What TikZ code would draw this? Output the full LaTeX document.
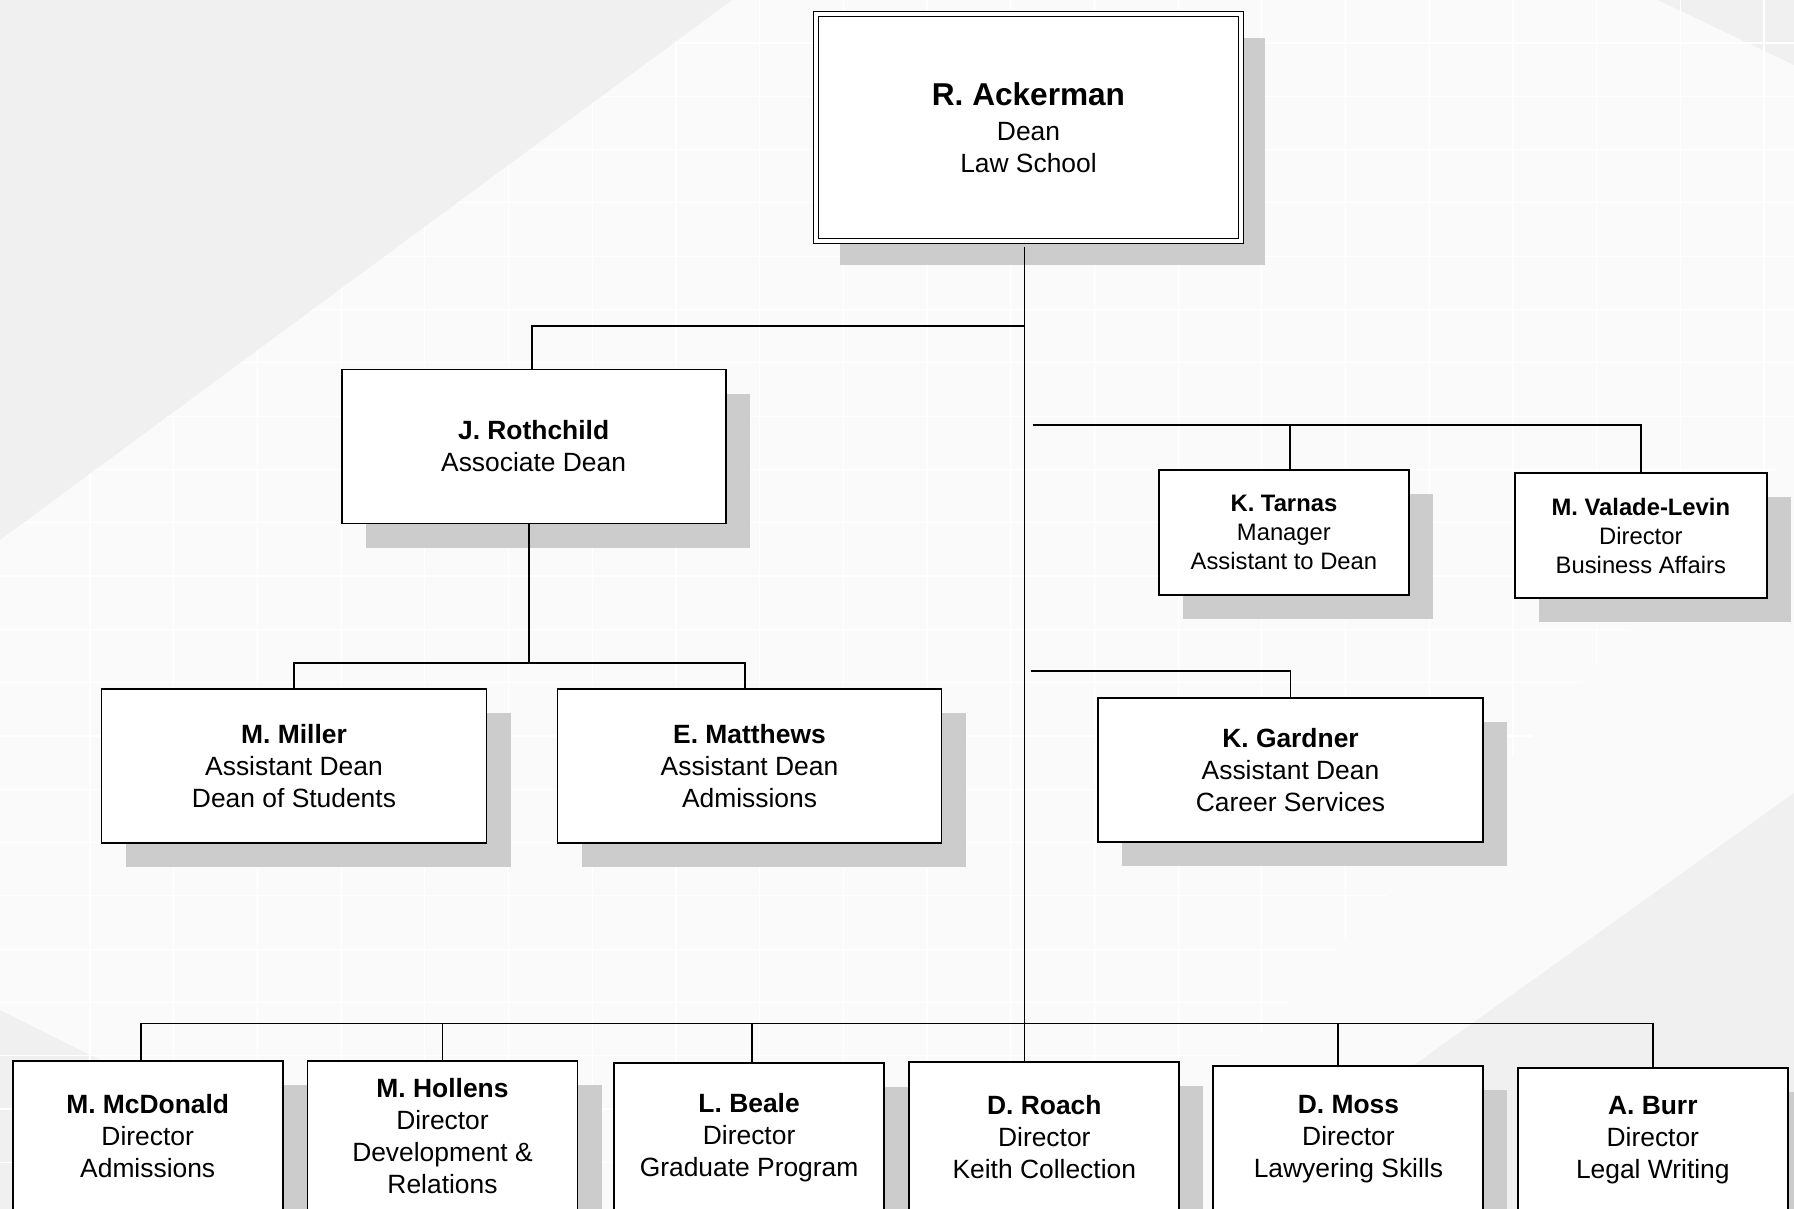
\documentclass[tikz,border=0pt]{standalone}
\usepackage{fontspec}
\setmainfont{Liberation Sans}
\usetikzlibrary{shadows,positioning}
\definecolor{bgpale}{RGB}{250,250,250}
\definecolor{bgshade}{RGB}{240,240,240}
\definecolor{shadowgray}{RGB}{204,204,204}
\tikzset{
    block/.style = {draw, rectangle, fill=white, line width=0.95pt,
        inner sep=0pt, align=center,
        font=\fontsize{13.2}{16}\selectfont,
        drop shadow={shadow xshift=12pt, shadow yshift=-12pt, fill=shadowgray, opacity=1}},
    deanblock/.style = {block, double, line width=0.65pt, double distance=1.85pt},
    smallblock/.style = {block, font=\fontsize{11.9}{14.5}\selectfont},
    link/.style = {draw, line width=0.95pt},
    gridline/.style = {draw=white, line width=0.6pt}
}

\begin{document}
\begin{tikzpicture}[x=0.5pt, y=-0.5pt, node distance=100pt]
    \useasboundingbox (0,0) rectangle (1794,1209);
    \clip (0,0) rectangle (1794,1209);
    % background
    \fill[bgpale] (0,0) rectangle (1794,1209);
    \fill[bgshade] (0,0) -- (732,0) -- (0,540) -- cycle;
    \fill[bgshade] (1658,0) -- (1794,0) -- (1794,65) -- cycle;
    \fill[bgshade] (1794,793) -- (1213,1209) -- (1794,1209) -- cycle;
    \fill[bgshade] (0,1010) -- (398,1209) -- (0,1209) -- cycle;
    \begin{scope}
        \clip (732,0) -- (1794,0) -- (1794,450) -- (1100,1209) -- (0,1209) -- (0,540) -- cycle;
        \foreach \gx in {0,...,20}
            \draw[gridline] ({90+83.7*\gx},0) -- ({90+83.7*\gx},1209);
        \foreach \gy in {0,...,21}
            \draw[gridline] (0,{43+53.3*\gy}) -- (1794,{43+53.3*\gy});
    \end{scope}

    % boxes
    \node [deanblock, minimum width=212.5pt, minimum height=113.5pt] (dean) at (1028.5,127.5)
        {{\fontsize{15.8}{19}\selectfont\bfseries R. Ackerman}\\[1.5pt]Dean\\Law School};
    \node [block, minimum width=192pt, minimum height=77pt] (rothchild) at (533.6,446.5)
        {\textbf{J. Rothchild}\\Associate Dean};
    \node [block, minimum width=192.5pt, minimum height=77pt] (miller) at (294,766)
        {\textbf{M. Miller}\\Assistant Dean\\Dean of Students};
    \node [block, right of=miller, node distance=227.75pt, minimum width=192pt, minimum height=77pt] (matthews)
        {\textbf{E. Matthews}\\Assistant Dean\\Admissions};
    \node [smallblock, minimum width=125pt, minimum height=62.7pt] (tarnas) at (1283.9,532.7)
        {\textbf{K. Tarnas}\\Manager\\Assistant to Dean};
    \node [smallblock, minimum width=126.2pt, minimum height=62.7pt] (valade) at (1640.8,535.7)
        {\textbf{M. Valade-Levin}\\Director\\Business Affairs};
    \node [block, minimum width=192.7pt, minimum height=72pt] (gardner) at (1290.5,770)
        {\textbf{K. Gardner}\\Assistant Dean\\Career Services};
    \foreach \name/\cx/\top/\txt in {
        mcdonald/147.7/1060.7/{\textbf{M. McDonald}\\Director\\Admissions},
        hollens/442.5/1060.6/{\textbf{M. Hollens}\\Director\\Development \&\\Relations},
        beale/749.1/1063.3/{\textbf{L. Beale}\\Director\\Graduate Program},
        roach/1044.3/1061.7/{\textbf{D. Roach}\\Director\\Keith Collection},
        moss/1348.4/1066/{\textbf{D. Moss}\\Director\\Lawyering Skills},
        burr/1652.8/1068/{\textbf{A. Burr}\\Director\\Legal Writing}}{
        \node [block, minimum width=135pt, minimum height={(1212-\top)*0.5pt}] (\name)
            at (\cx,{(1212+\top)/2}) {\txt};
    }

    % connectors
    \coordinate (busA) at (1024.5,325.7);
    \coordinate (busB) at (1032.7,425.3);
    \coordinate (busC) at (1030.6,670.7);
    \coordinate (busD) at (529.3,663);
    \coordinate (busE) at (1024.5,1023.5);
    \draw[link] ([xshift=-2pt,yshift=-2.5pt]dean.south) -- ([xshift=-2pt]dean.south |- roach.north);
    \draw[link] (busA) -| ([xshift=-1pt]rothchild.north);
    \draw[link] (busD |- rothchild.south) -- (busD);
    \draw[link] (miller.north) |- (busD) -| ([xshift=-2.25pt]matthews.north);
    \draw[link] (busB) -| (valade.north);
    \draw[link] ([xshift=3pt]tarnas.north) -- ([xshift=3pt]tarnas.north |- busB);
    \draw[link] (busC) -| (gardner.north);
    \draw[link] ([xshift=-3.5pt]mcdonald.north) |- (busE) -| (burr.north);
    \draw[link] (hollens.north) -- (hollens.north |- busE);
    \draw[link] ([xshift=1.5pt]beale.north) -- ([xshift=1.5pt]beale.north |- busE);
    \draw[link] ([xshift=-5pt]moss.north) -- ([xshift=-5pt]moss.north |- busE);
\end{tikzpicture}
\end{document}
